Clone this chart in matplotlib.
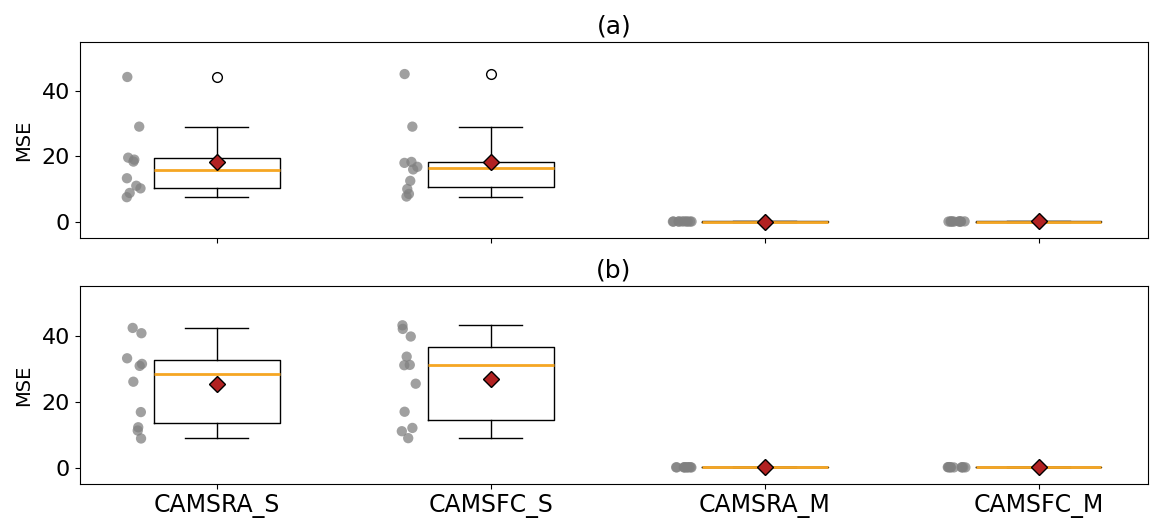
import numpy as np
import matplotlib
matplotlib.use('Agg')
import matplotlib.pyplot as plt

models = ['CAMSRA_S', 'CAMSFC_S', 'CAMSRA_M', 'CAMSFC_M']

# panel (a) MSE per station
a_camsra_s = [7.5, 8.8, 10.2, 11.0, 13.3, 18.4, 19.0, 19.6, 29.1, 44.3]
a_camsfc_s = [7.7, 8.5, 10.0, 12.5, 16.0, 16.8, 18.0, 18.3, 29.1, 45.2]
a_camsra_m = [0.02, 0.05, 0.03, 0.08, 0.04, 0.10, 0.06, 0.03, 0.05, 0.07]
a_camsfc_m = [0.03, 0.04, 0.06, 0.09, 0.02, 0.08, 0.05, 0.04, 0.06, 0.12]

# panel (b)
b_camsra_s = [8.8, 11.2, 12.2, 16.8, 26.0, 30.8, 31.4, 33.1, 40.7, 42.3]
b_camsfc_s = [8.9, 11.0, 12.0, 16.9, 25.4, 31.0, 31.1, 33.6, 39.7, 42.0, 43.1]
b_camsra_m = [0.03, 0.06, 0.04, 0.09, 0.05, 0.11, 0.07, 0.02, 0.05, 0.08]
b_camsfc_m = [0.04, 0.05, 0.07, 0.10, 0.03, 0.09, 0.06, 0.05, 0.07, 0.13]

panels = [('(a)', [a_camsra_s, a_camsfc_s, a_camsra_m, a_camsfc_m]),
          ('(b)', [b_camsra_s, b_camsfc_s, b_camsra_m, b_camsfc_m])]

fig = plt.figure(figsize=(11.62, 5.19), dpi=100)
ax_a = fig.add_axes([0.0688, 0.5414, 0.9192, 0.3776])
ax_b = fig.add_axes([0.0688, 0.0674, 0.9192, 0.3815])

rng = np.random.default_rng(3)
pos = np.arange(len(models))

for ax, (title, data) in zip([ax_a, ax_b], panels):
    ax.boxplot(data, positions=pos, widths=0.46, showmeans=True,
               medianprops=dict(color='#f5a623', linewidth=2),
               meanprops=dict(marker='D', markerfacecolor='#b22222',
                              markeredgecolor='black', markersize=8.5),
               flierprops=dict(marker='o', markerfacecolor='white',
                               markeredgecolor='black', markersize=7))
    for i, vals in enumerate(data):
        xs = i - 0.30 + rng.uniform(-0.035, 0.035, len(vals))
        ax.scatter(xs, vals, s=55, color='gray', alpha=0.75, edgecolors='none', zorder=3)
    ax.set_xlim(-0.5, 3.4)
    ax.set_ylim(-5, 55)
    ax.set_yticks([0, 20, 40])
    ax.set_ylabel('MSE', fontsize=14, labelpad=6)
    ax.set_title(title, fontsize=18, pad=6)
    ax.tick_params(labelsize=16)
    ax.set_xticks(pos)

ax_a.set_xticklabels([])
ax_b.set_xticklabels(models)
for lbl in ax_b.get_xticklabels():
    lbl.set_fontsize(17)

fig.savefig('out.png', dpi=100)
